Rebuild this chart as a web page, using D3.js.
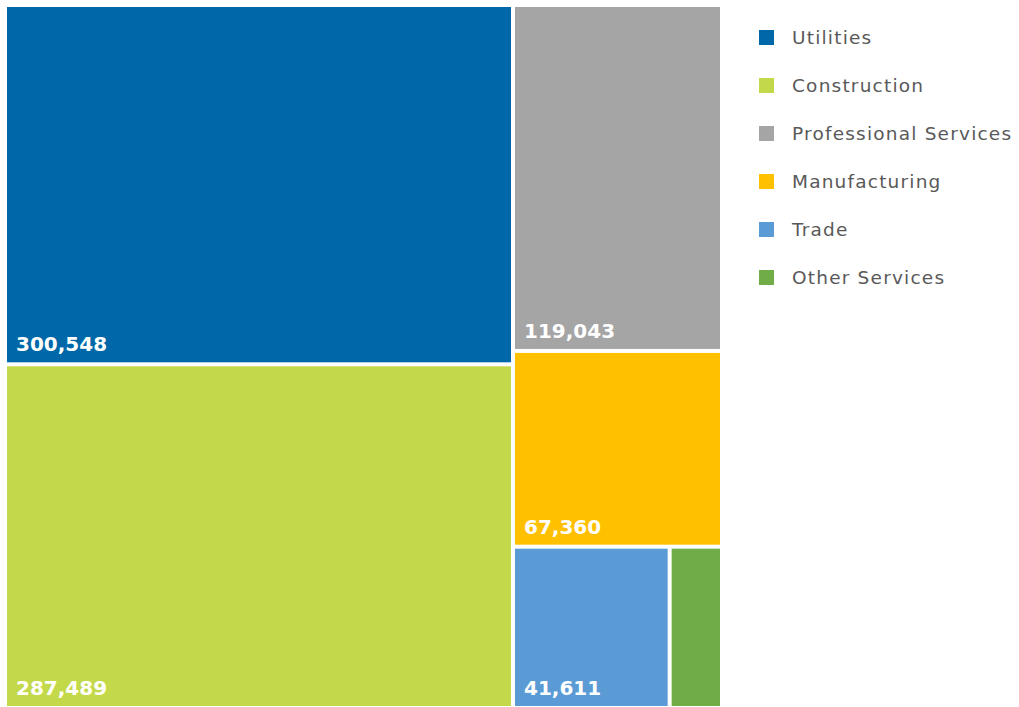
<!DOCTYPE html>
<meta charset="utf-8">
<style>
body { margin: 0; background: #fff; }
.label { font: bold 20px "DejaVu Sans", sans-serif; fill: #fff; }
.legend text { font: 18.5px "DejaVu Sans", sans-serif; fill: #595959; letter-spacing: 1.2px; }
</style>
<svg width="1019" height="707"></svg>
<script src="https://cdn.jsdelivr.net/npm/d3@7"></script>
<script>

var categories = ["Utilities", "Construction", "Professional Services", "Manufacturing", "Trade", "Other Services"];
var values = [300548, 287489, 119043, 67360, 41611, 13900];
var colors = ["#0068a8", "#c4d94a", "#a5a5a5", "#ffc000", "#5b9bd5", "#70ad47"];
var showLabel = [true, true, true, true, true, false];

var svg = d3.select("svg"),
    g = svg.append("g").attr("transform", "translate(7,7)");

var root = d3.hierarchy({children: categories.map(function(c, i) {
    return {name: c, value: values[i], color: colors[i], label: showLabel[i]};
  })})
  .sum(function(d) { return d.value || 0; });

d3.treemap()
    .size([713, 699])
    .tile(d3.treemapSquarify)
    .paddingInner(4)(root);

var fmt = d3.format(",");

var cell = g.selectAll("g")
  .data(root.leaves())
  .enter().append("g")
    .attr("transform", function(d) { return "translate(" + d.x0 + "," + d.y0 + ")"; });

cell.append("rect")
    .attr("width", function(d) { return d.x1 - d.x0; })
    .attr("height", function(d) { return d.y1 - d.y0; })
    .attr("fill", function(d) { return d.data.color; });

cell.filter(function(d) { return d.data.label; })
  .append("text")
    .attr("class", "label")
    .attr("x", 9)
    .attr("y", function(d) { return d.y1 - d.y0 - 11; })
    .text(function(d) { return fmt(d.data.value); });

// legend
var legend = svg.append("g").attr("class", "legend")
    .attr("transform", "translate(759,30)");

var item = legend.selectAll("g")
  .data(categories)
  .enter().append("g")
    .attr("transform", function(d, i) { return "translate(0," + i * 48 + ")"; });

item.append("rect")
    .attr("width", 15)
    .attr("height", 15)
    .attr("fill", function(d, i) { return colors[i]; });

item.append("text")
    .attr("x", 33)
    .attr("y", 14)
    .text(function(d) { return d; });

</script>
